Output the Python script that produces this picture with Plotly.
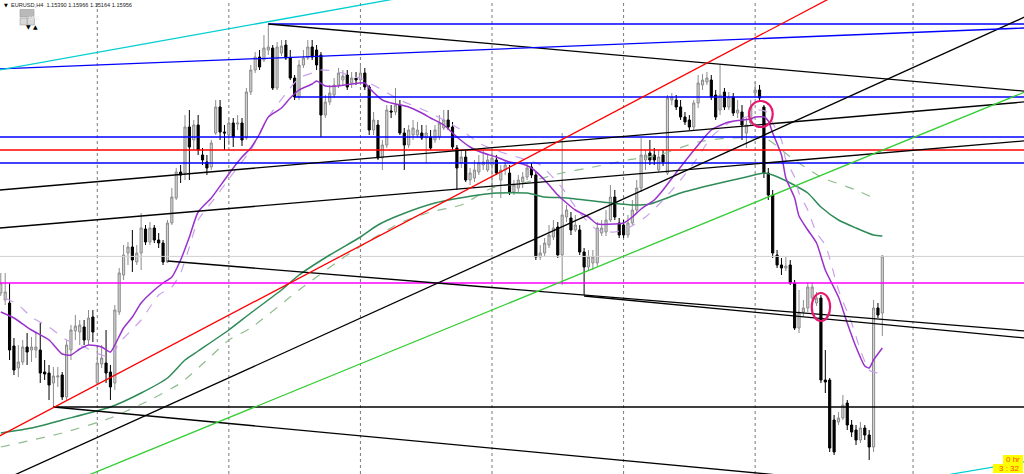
import plotly.graph_objects as go

# ---------------- candles (EURUSD H4), bar index 0..201 ----------------
OPEN = [1.1559,1.1552,1.1549,1.1506,1.1484,1.1490,1.1505,1.1502,1.1502,1.1502,
1.1480,1.1479,1.1469,1.1475,1.1477,1.1455,1.1502,1.1521,1.1520,1.1525,
1.1512,1.1535,1.1469,1.1488,1.1489,1.1480,1.1469,1.1540,1.1577,1.1599,
1.1605,1.1590,1.1599,1.1623,1.1610,1.1624,1.1612,1.1609,1.1590,1.1629,
1.1654,1.1680,1.1679,1.1725,1.1712,1.1727,1.1697,1.1690,1.1685,1.1719,
1.1745,1.1720,1.1717,1.1729,1.1728,1.1729,1.1714,1.1760,1.1782,1.1795,
1.1792,1.1802,1.1804,1.1764,1.1799,1.1807,1.1794,1.1774,1.1755,1.1787,
1.1794,1.1805,1.1802,1.1797,1.1737,1.1750,1.1757,1.1767,1.1772,1.1777,
1.1769,1.1774,1.1772,1.1779,1.1765,1.1722,1.1727,1.1694,1.1707,1.1741,
1.1740,1.1747,1.1719,1.1707,1.1717,1.1717,1.1719,1.1714,1.1715,1.1712,
1.1715,1.1724,1.1732,1.1725,1.1704,1.1689,1.1695,1.1672,1.1674,1.1680,
1.1687,1.1682,1.1687,1.1692,1.1672,1.1682,1.1679,1.1660,1.1664,1.1670,
1.1675,1.1685,1.1677,1.1595,1.1599,1.1607,1.1615,1.1625,1.1597,1.1635,
1.1634,1.1622,1.1622,1.1600,1.1585,1.1589,1.1589,1.1619,1.1620,1.1632,
1.1655,1.1629,1.1627,1.1617,1.1629,1.1642,1.1664,1.1692,1.1699,1.1697,
1.1682,1.1697,1.1679,1.1752,1.1752,1.1745,1.1735,1.1732,1.1725,1.1749,
1.1767,1.1770,1.1772,1.1757,1.1742,1.1760,1.1745,1.1755,1.1739,1.1740,
1.1719,1.1729,1.1759,1.1762,1.1745,1.1679,1.1657,1.1597,1.1587,1.1584,
1.1587,1.1569,1.1524,1.1540,1.1544,1.1554,1.1549,1.1554,1.1472,1.1472,
1.1432,1.1430,1.1434,1.1449,1.1427,1.1422,1.1412,1.1424,1.1417,1.1405,
1.1544,1.1539]
HIGH = [1.1579,1.1579,1.1569,1.1514,1.1507,1.1512,1.1519,1.1515,1.1519,1.1529,
1.1492,1.1487,1.1485,1.1485,1.1480,1.1512,1.1527,1.1537,1.1532,1.1532,
1.1542,1.1542,1.1507,1.1507,1.1522,1.1487,1.1547,1.1584,1.1607,1.1610,
1.1622,1.1607,1.1639,1.1627,1.1630,1.1627,1.1619,1.1612,1.1632,1.1664,
1.1684,1.1687,1.1737,1.1742,1.1732,1.1737,1.1704,1.1697,1.1712,1.1752,
1.1752,1.1727,1.1734,1.1734,1.1737,1.1734,1.1764,1.1787,1.1800,1.1802,
1.1817,1.1828,1.1807,1.1810,1.1812,1.1812,1.1802,1.1777,1.1792,1.1802,
1.1812,1.1812,1.1807,1.1800,1.1757,1.1767,1.1774,1.1784,1.1782,1.1782,
1.1780,1.1780,1.1786,1.1784,1.1767,1.1740,1.1732,1.1712,1.1747,1.1747,
1.1764,1.1752,1.1724,1.1727,1.1732,1.1730,1.1727,1.1727,1.1722,1.1727,
1.1737,1.1742,1.1742,1.1730,1.1707,1.1702,1.1702,1.1684,1.1692,1.1697,
1.1702,1.1697,1.1702,1.1697,1.1687,1.1692,1.1687,1.1672,1.1677,1.1680,
1.1689,1.1689,1.1680,1.1607,1.1614,1.1627,1.1632,1.1630,1.1719,1.1647,
1.1640,1.1637,1.1627,1.1604,1.1602,1.1602,1.1630,1.1632,1.1642,1.1667,
1.1662,1.1634,1.1632,1.1637,1.1652,1.1672,1.1714,1.1702,1.1712,1.1704,
1.1702,1.1702,1.1757,1.1759,1.1757,1.1752,1.1740,1.1737,1.1752,1.1777,
1.1778,1.1780,1.1777,1.1762,1.1787,1.1764,1.1760,1.1759,1.1752,1.1747,
1.1734,1.1752,1.1770,1.1767,1.1747,1.1684,1.1662,1.1602,1.1594,1.1595,
1.1592,1.1572,1.1562,1.1552,1.1570,1.1570,1.1560,1.1557,1.1502,1.1474,
1.1437,1.1440,1.1457,1.1452,1.1432,1.1427,1.1430,1.1427,1.1422,1.1552,
1.1549,1.1597]
LOW = [1.1556,1.1547,1.1492,1.1477,1.1475,1.1487,1.1487,1.1490,1.1494,1.1469,
1.1472,1.1452,1.1445,1.1465,1.1452,1.1452,1.1492,1.1512,1.1507,1.1507,
1.1507,1.1510,1.1467,1.1484,1.1469,1.1452,1.1462,1.1537,1.1572,1.1587,
1.1580,1.1587,1.1582,1.1607,1.1607,1.1609,1.1604,1.1587,1.1589,1.1627,
1.1652,1.1669,1.1672,1.1672,1.1702,1.1697,1.1687,1.1677,1.1682,1.1717,
1.1712,1.1702,1.1707,1.1705,1.1722,1.1706,1.1712,1.1757,1.1779,1.1782,
1.1790,1.1797,1.1762,1.1762,1.1796,1.1792,1.1772,1.1752,1.1752,1.1784,
1.1792,1.1792,1.1782,1.1715,1.1734,1.1747,1.1754,1.1764,1.1767,1.1762,
1.1764,1.1767,1.1767,1.1762,1.1717,1.1717,1.1692,1.1682,1.1704,1.1734,
1.1737,1.1717,1.1682,1.1704,1.1712,1.1714,1.1712,1.1689,1.1702,1.1709,
1.1712,1.1722,1.1722,1.1702,1.1662,1.1684,1.1670,1.1667,1.1670,1.1677,
1.1682,1.1680,1.1657,1.1677,1.1654,1.1677,1.1657,1.1657,1.1660,1.1664,
1.1672,1.1674,1.1592,1.1592,1.1596,1.1604,1.1612,1.1594,1.1567,1.1630,
1.1617,1.1620,1.1597,1.1557,1.1582,1.1582,1.1586,1.1616,1.1616,1.1630,
1.1632,1.1614,1.1614,1.1614,1.1627,1.1640,1.1660,1.1682,1.1687,1.1687,
1.1680,1.1686,1.1677,1.1747,1.1742,1.1732,1.1727,1.1722,1.1722,1.1744,
1.1762,1.1767,1.1752,1.1732,1.1737,1.1742,1.1742,1.1736,1.1734,1.1712,
1.1704,1.1726,1.1754,1.1750,1.1674,1.1652,1.1594,1.1584,1.1577,1.1581,
1.1567,1.1522,1.1519,1.1536,1.1540,1.1552,1.1546,1.1469,1.1459,1.1400,
1.1397,1.1427,1.1432,1.1422,1.1415,1.1407,1.1409,1.1412,1.1392,1.1400,
1.1534,1.1516]
CLOSE = [1.1569,1.1560,1.1502,1.1482,1.1490,1.1505,1.1500,1.1505,1.1505,1.1479,
1.1478,1.1467,1.1476,1.1476,1.1455,1.1507,1.1522,1.1526,1.1527,1.1512,
1.1534,1.1520,1.1489,1.1494,1.1479,1.1465,1.1542,1.1579,1.1597,1.1605,
1.1592,1.1599,1.1624,1.1610,1.1624,1.1612,1.1609,1.1590,1.1629,1.1655,
1.1680,1.1677,1.1725,1.1705,1.1727,1.1702,1.1692,1.1684,1.1709,1.1745,
1.1720,1.1719,1.1729,1.1715,1.1729,1.1712,1.1760,1.1782,1.1795,1.1785,
1.1804,1.1805,1.1764,1.1805,1.1806,1.1794,1.1774,1.1755,1.1787,1.1794,
1.1805,1.1795,1.1787,1.1737,1.1750,1.1759,1.1767,1.1779,1.1776,1.1765,
1.1774,1.1772,1.1779,1.1765,1.1722,1.1732,1.1694,1.1707,1.1742,1.1740,
1.1747,1.1719,1.1707,1.1722,1.1724,1.1722,1.1714,1.1719,1.1704,1.1722,
1.1729,1.1732,1.1725,1.1705,1.1684,1.1695,1.1672,1.1679,1.1682,1.1689,
1.1690,1.1692,1.1694,1.1679,1.1682,1.1687,1.1660,1.1667,1.1672,1.1675,
1.1684,1.1677,1.1595,1.1599,1.1609,1.1617,1.1624,1.1597,1.1637,1.1642,
1.1622,1.1627,1.1600,1.1585,1.1595,1.1595,1.1624,1.1624,1.1632,1.1655,
1.1635,1.1617,1.1617,1.1629,1.1642,1.1664,1.1697,1.1697,1.1692,1.1692,
1.1695,1.1690,1.1754,1.1755,1.1745,1.1735,1.1730,1.1725,1.1749,1.1769,
1.1772,1.1774,1.1755,1.1735,1.1757,1.1745,1.1755,1.1739,1.1742,1.1727,
1.1727,1.1745,1.1762,1.1754,1.1679,1.1657,1.1599,1.1587,1.1584,1.1586,
1.1569,1.1524,1.1540,1.1544,1.1565,1.1565,1.1554,1.1472,1.1470,1.1404,
1.1400,1.1434,1.1447,1.1427,1.1420,1.1412,1.1424,1.1417,1.1405,1.1544,
1.1537,1.1596]
BARS = list(range(len(CLOSE)))

# ---------------- moving averages (read at sample bars) ----------------
MA_FAST_BAR = [0,3,7,11,14,16,18,20,23,25,26,28,30,32,35,37,39,41,43,45,48,51,53,55,57,59,61,64,66,68,
71,72,74,77,80,83,84,87,89,93,96,98,101,104,107,110,113,116,119,121,124,127,129,131,134,136,140,142,144,146,
149,151,155,159,162,166,169,171,172,174,175,176,178,179,181,182,184,186,188,191,193,195,197,198,199,201]
MA_FAST = [1.1540,1.1534,1.1522,1.1512,1.1498,1.1497,1.1503,1.1507,1.1505,1.1500,1.1507,1.1524,1.1535,1.1549,1.1562,
1.1569,1.1575,1.1592,1.1615,1.1640,1.1654,1.1672,1.1684,1.1695,1.1704,1.1718,1.1735,1.1744,1.1754,1.1762,
1.1768,1.1771,1.1766,1.1766,1.1768,1.1769,1.1764,1.1752,1.1749,1.1745,1.1739,1.1734,1.1727,1.1715,1.1705,
1.1699,1.1695,1.1690,1.1688,1.1684,1.1672,1.1657,1.1649,1.1642,1.1635,1.1628,1.1628,1.1629,1.1635,1.1643,
1.1652,1.1662,1.1685,1.1707,1.1722,1.1730,1.1732,1.1733,1.1735,1.1735,1.1731,1.1719,1.1697,1.1674,1.1654,
1.1636,1.1622,1.1609,1.1582,1.1555,1.1529,1.1505,1.1486,1.1484,1.1492,1.1504]

MA_SLOW_BAR = [1,4,7,11,15,19,23,25,27,32,36,39,41,43,45,49,53,57,61,66,68,71,73,76,78,80,82,84,87,91,
98,105,109,114,120,123,128,132,136,140,143,147,151,155,159,162,166,170,173,175,176,178,179,181,182,184,186,188,191,194,
196,198,200,201]
MA_SLOW = [1.1554,1.1547,1.1535,1.1525,1.1512,1.1505,1.1497,1.1495,1.1509,1.1532,1.1557,1.1565,1.1579,1.1605,1.1632,
1.1655,1.1679,1.1702,1.1735,1.1764,1.1774,1.1779,1.1782,1.1781,1.1779,1.1775,1.1774,1.1769,1.1762,1.1752,
1.1739,1.1722,1.1709,1.1700,1.1692,1.1687,1.1664,1.1639,1.1622,1.1620,1.1624,1.1635,1.1652,1.1672,1.1695,
1.1715,1.1729,1.1735,1.1742,1.1739,1.1729,1.1712,1.1692,1.1675,1.1659,1.1642,1.1619,1.1607,1.1562,1.1529,
1.1502,1.1482,1.1479,1.1480]

MA_GREEN_BAR = [0,7,14,25,32,38,42,45,52,57,64,68,75,82,86,91,99,109,113,120,124,129,137,144,148,155,162,170,174,176,
180,184,187,191,195,199,201]
MA_GREEN = [1.1419,1.1424,1.1432,1.1445,1.1459,1.1474,1.1492,1.1501,1.1522,1.1539,1.1562,1.1577,1.1597,1.1615,1.1627,
1.1637,1.1649,1.1657,1.1659,1.1659,1.1655,1.1654,1.1650,1.1647,1.1648,1.1659,1.1667,1.1675,1.1679,1.1677,
1.1669,1.1659,1.1645,1.1632,1.1624,1.1617,1.1616]

MA_GREEN2_BAR = [0,14,25,34,41,47,52,57,68,80,91,98,105,112,120,128,134,143,150,159,166,172,175,180,187,195,200]
MA_GREEN2 = [1.1405,1.1419,1.1434,1.1452,1.1469,1.1492,1.1512,1.1524,1.1562,1.1600,1.1629,1.1640,1.1647,1.1664,1.1670,
1.1679,1.1684,1.1692,1.1697,1.1710,1.1714,1.1714,1.1712,1.1695,1.1675,1.1662,1.1652]

# ---------------- drawn objects ----------------
# horizontal levels: (price, colour, first bar)
LEVELS = [(1.1828, "#0000ff", 61), (1.1755, "#0000ff", 67), (1.1715, "#0000ff", -2),
          (1.1689, "#0000ff", -2), (1.1702, "#ff0000", -2), (1.1569, "#ff00ff", -2),
          (1.1445, "#000000", 12)]
BID = 1.15956
# trend lines: (bar0, price0, bar1, price1, colour)
TRENDS = [(38, 1.1591, 234, 1.15208, "#000000"),
          (133, 1.1556, 234, 1.15138, "#000000"),
          (12, 1.1445, 234, 1.13536, "#000000"),
          (0, 1.13708, 234, 1.18361, "#000000"),
          (61, 1.1828, 234, 1.17606, "#000000"),
          (-1, 1.16617, 234, 1.17503, "#000000"),
          (-1, 1.16237, 234, 1.17113, "#000000"),
          (-1, 1.14143, 200, 1.18790, "#ff0000"),
          (20, 1.13769, 234, 1.17609, "#32cd32"),
          (-1, 1.17829, 234, 1.18241, "#0000ff"),
          (-1, 1.17814, 90, 1.18532, "#00ced1"),
          (216.5, 1.13777, 234, 1.13907, "#00ced1")]
SEPARATORS = [22, 52, 82, 112, 142, 172, 208]
# highlight ellipses: (centre bar, centre price, half width in bars, half height in price)
CIRCLES = [(173.3, 1.1738, 2.7, 0.0013), (187.0, 1.1545, 2.1, 0.0014)]

HEADER = "EURUSD,H4  1.15390 1.15966 1.15164 1.15956"

W, H = 1024, 474
XR = [-0.18, 233.3]
YR = [1.1378, 1.1852]

fig = go.Figure()

for b in SEPARATORS:
    fig.add_shape(type="line", x0=b, x1=b, y0=0, y1=1, xref="x", yref="paper",
                  line=dict(color="#7a7a7a", width=1, dash="dot"), layer="below")

fig.add_trace(go.Scatter(x=[XR[0], XR[1]], y=[BID, BID], mode="lines",
                         line=dict(color="#cfcfcf", width=1), hoverinfo="skip", showlegend=False))

fig.add_trace(go.Candlestick(
    x=BARS, open=OPEN, high=HIGH, low=LOW, close=CLOSE,
    increasing=dict(line=dict(color="#8c8c8c", width=1), fillcolor="#d2d2d2"),
    decreasing=dict(line=dict(color="#000000", width=1), fillcolor="#000000"),
    whiskerwidth=0, hoverinfo="skip", showlegend=False))

def line(x, y, color, width=1.3, dash=None):
    fig.add_trace(go.Scatter(x=x, y=y, mode="lines",
                             line=dict(color=color, width=width, dash=dash, shape="spline", smoothing=0.6),
                             hoverinfo="skip", showlegend=False))

line(MA_GREEN2_BAR, MA_GREEN2, "#8fbc8f", 1.2, "dash")
line(MA_GREEN_BAR, MA_GREEN, "#2e8b57", 1.5)
line(MA_SLOW_BAR, MA_SLOW, "#c9a0ec", 1.2, "dash")
line(MA_FAST_BAR, MA_FAST, "#9932cc", 1.5)

for p, c, b0 in LEVELS:
    fig.add_trace(go.Scatter(x=[b0, 240], y=[p, p], mode="lines", line=dict(color=c, width=1.3),
                             hoverinfo="skip", showlegend=False))

for b0, p0, b1, p1, c in TRENDS:
    fig.add_trace(go.Scatter(x=[b0, b1], y=[p0, p1], mode="lines", line=dict(color=c, width=1.3),
                             hoverinfo="skip", showlegend=False))

for cb, cp, hw, hh in CIRCLES:
    fig.add_shape(type="circle", x0=cb - hw, x1=cb + hw, y0=cp - hh, y1=cp + hh,
                  xref="x", yref="y", line=dict(color="#e5186f", width=2.2))

def px(x):
    return x / W

def py(y):
    return 1 - y / H

# header text and small buttons
fig.add_annotation(x=px(2), y=py(5), xref="paper", yref="paper", text="▼", showarrow=False,
                   xanchor="left", yanchor="middle", font=dict(size=5, color="#000000", family="DejaVu Sans"))
fig.add_annotation(x=px(9), y=py(5), xref="paper", yref="paper", text=HEADER, showarrow=False,
                   xanchor="left", yanchor="middle", font=dict(size=5.6, color="#222222", family="Liberation Sans"))
fig.add_shape(type="rect", xref="paper", yref="paper", x0=px(20), x1=px(34), y0=py(17), y1=py(9.5),
              fillcolor="#b9b9b9", line=dict(color="#9a9a9a", width=0.6))
fig.add_annotation(x=px(27), y=py(13.2), xref="paper", yref="paper", text="MN1", showarrow=False,
                   font=dict(size=5, color="#eeeeee", family="Liberation Sans"))
for x0, sym in [(20, "▼"), (27.5, "▲")]:
    fig.add_shape(type="rect", xref="paper", yref="paper", x0=px(x0), x1=px(x0 + 7), y0=py(25), y1=py(18),
                  fillcolor="#d8d8d8", line=dict(color="#a0a0a0", width=0.6))
    fig.add_annotation(x=px(x0 + 3.5), y=py(21.5), xref="paper", yref="paper", text=sym, showarrow=False,
                       font=dict(size=6, color="#000000", family="DejaVu Sans"))

# bottom-right timer labels
fig.add_shape(type="rect", xref="paper", yref="paper", x0=px(1003), x1=px(1023), y0=py(464), y1=py(455),
              fillcolor="#ffff00", line=dict(width=0))
fig.add_annotation(x=px(1022), y=py(459.5), xref="paper", yref="paper", text="0 hr", showarrow=False,
                   xanchor="right", yanchor="middle", font=dict(size=8, color="#ff4500", family="Liberation Sans"))
fig.add_shape(type="rect", xref="paper", yref="paper", x0=px(993), x1=px(1023), y0=py(473), y1=py(464),
              fillcolor="#ffff00", line=dict(width=0))
fig.add_annotation(x=px(1022), y=py(468.5), xref="paper", yref="paper", text="3 : 32", showarrow=False,
                   xanchor="right", yanchor="middle", font=dict(size=8, color="#ff4500", family="Liberation Sans"))

fig.update_layout(width=W, height=H, margin=dict(l=0, r=0, t=0, b=0),
                  paper_bgcolor="#ffffff", plot_bgcolor="#ffffff", showlegend=False,
                  xaxis=dict(range=XR, visible=False, rangeslider=dict(visible=False), fixedrange=True),
                  yaxis=dict(range=YR, visible=False, fixedrange=True))

fig.write_html("out.html", config={"displayModeBar": False},
               post_script="document.body.style.margin='0px';document.body.style.overflow='hidden';")
